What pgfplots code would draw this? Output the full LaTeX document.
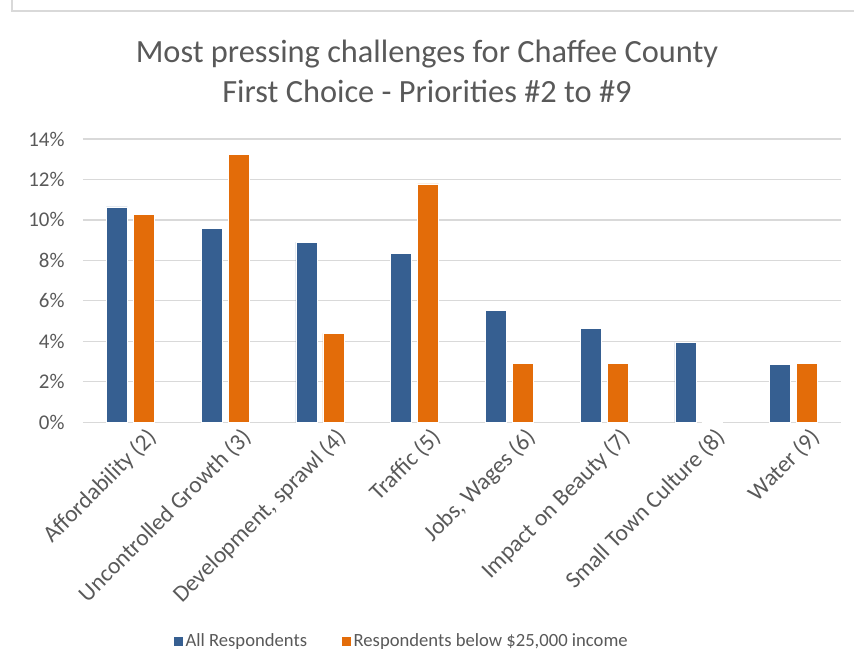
\documentclass[border=0pt]{standalone}
\usepackage{pgfplots}
\pgfplotsset{compat=1.18}
\usepackage{fontspec}
\setmainfont{Carlito}
\definecolor{cblue}{RGB}{54,95,145}
\definecolor{corange}{RGB}{227,108,9}
\definecolor{tgray}{RGB}{89,89,89}
\definecolor{ggray}{RGB}{217,217,217}
\begin{document}
\begin{tikzpicture}[x=1bp,y=1bp]
\begin{axis}[
  name=ax,
  scale only axis, width=758bp, height=283.3bp,
  xmin=-0.5, xmax=7.5, ymin=0, ymax=14,
  ybar=6bp, bar width=21bp,
  xtick=data,
  xticklabels={Affordability (2),Uncontrolled Growth (3),{Development, sprawl (4)},Traffic (5),{Jobs, Wages (6)},Impact on Beauty (7),Small Town Culture (8),Water (9)},
  xticklabel style={rotate=45, anchor=north east, text=tgray, font=\fontsize{23.5}{26}\selectfont, xshift=11bp, yshift=-10bp},
  ytick={0,2,...,14},
  yticklabel={\pgfmathprintnumber{\tick}\%},
  yticklabel style={text=tgray, font=\fontsize{21}{24}\selectfont, xshift=-15bp},
  /pgf/number format/assume math mode=true,
  major tick length=0pt,
  axis line style={draw=none},
  ymajorgrids, grid style={ggray, line width=1.2bp},
  legend style={at={(0.420,-0.772)}, anchor=center, draw=none, font=\fontsize{18.7}{21}\selectfont, text=tgray, legend columns=2, /tikz/every even column/.append style={column sep=32bp}},
  legend image code/.code={\fill[#1] (0bp,-5bp) rectangle (10bp,5bp);},
]
\addplot[fill=cblue, draw=white, line width=0.6bp] coordinates {(0,10.64) (1,9.59) (2,8.90) (3,8.33) (4,5.53) (5,4.63) (6,3.95) (7,2.87)};
\addplot[fill=corange, draw=white, line width=0.6bp] coordinates {(0,10.29) (1,13.24) (2,4.40) (3,11.78) (4,2.93) (5,2.93) (6,0) (7,2.93)};
\legend{All Respondents, {Respondents below \$25,000 income}}
\end{axis}
\coordinate (O) at ([shift={(-83,-245.7)}]ax.south west);
\pgfresetboundingbox
\path[use as bounding box] (O) rectangle ([shift={(854,668)}]O);
\draw[ggray,line width=1.5bp] ([shift={(12,670)}]O) -- ([shift={(12,657)}]O) -- ([shift={(856,657)}]O);
\node[text=tgray,font=\fontsize{32.5}{40}\selectfont,align=center] at ([shift={(427,597)}]O) {Most pressing challenges for Chaffee County\\First Choice - Priorities \#2 to \#9};
\end{tikzpicture}
\end{document}
